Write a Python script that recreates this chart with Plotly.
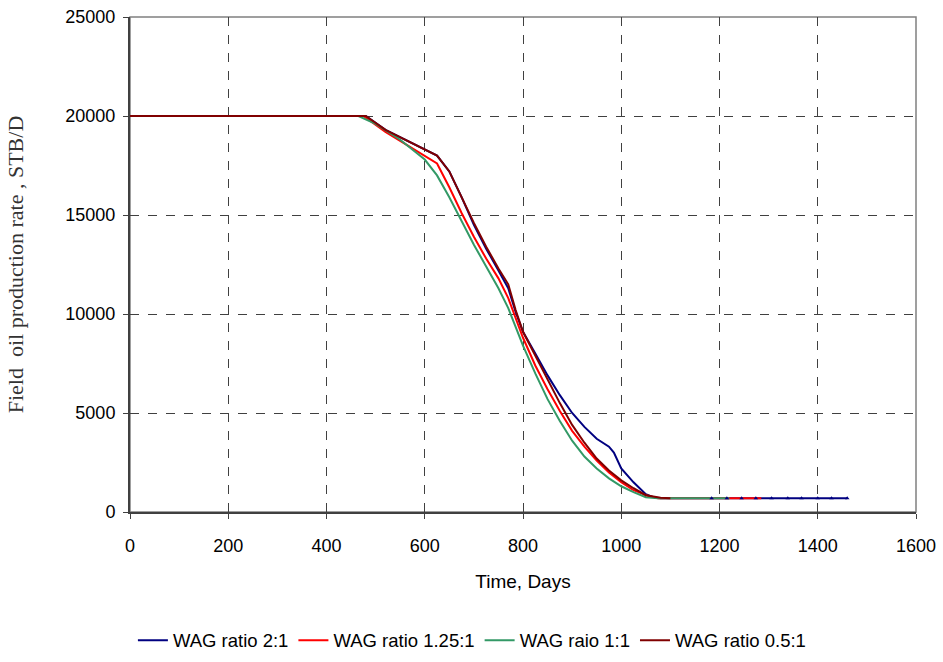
import plotly.graph_objects as go

# ---- data ----
blue_days = [0, 480, 520, 560, 600, 625, 650, 675, 700, 725, 750, 770, 785, 800, 825, 850, 875, 900,
             925, 950, 975, 985, 1000, 1025, 1050, 1065, 1080, 1184, 1215, 1245, 1274, 1306, 1339,
             1367, 1400, 1428, 1460]
blue_vals = [20000, 20000, 19300, 18800, 18300, 18000, 17200, 15900, 14500, 13300, 12200, 11300, 10100,
             9100, 8000, 6900, 5900, 5000, 4300, 3700, 3300, 3000, 2200, 1500, 900, 750, 700, 700, 700,
             700, 700, 700, 700, 700, 700, 700, 700]

red_days = [0, 475, 520, 560, 600, 625, 650, 675, 700, 725, 750, 770, 800, 825, 850, 875, 900, 925,
            950, 975, 1000, 1025, 1050, 1075, 1285]
red_vals = [20000, 20000, 19200, 18600, 18000, 17600, 16400, 15100, 13900, 12800, 11800, 10800, 8800,
            7400, 6200, 5100, 4100, 3300, 2600, 2000, 1500, 1100, 850, 700, 700]

green_days = [0, 465, 500, 550, 600, 625, 650, 675, 700, 725, 750, 770, 800, 825, 850, 875, 900, 925,
              950, 975, 1000, 1025, 1050, 1075, 1220]
green_vals = [20000, 20000, 19600, 18800, 17800, 17000, 15900, 14700, 13500, 12400, 11300, 10300, 8400,
              7000, 5700, 4600, 3600, 2800, 2200, 1700, 1300, 1000, 750, 700, 700]

dred_days = [0, 480, 520, 560, 600, 625, 650, 675, 700, 725, 750, 770, 785, 800, 825, 850, 875, 900,
             925, 950, 975, 1000, 1025, 1050, 1080, 1100]
dred_vals = [20000, 20000, 19300, 18800, 18300, 18000, 17200, 15900, 14600, 13400, 12300, 11500, 10200,
             9100, 7900, 6700, 5500, 4400, 3500, 2700, 2100, 1600, 1200, 850, 720, 700]

blue_tick_days = [1184, 1215, 1245, 1274, 1306, 1339, 1367, 1400, 1428, 1460]
blue_tick_vals = [700, 700, 700, 700, 700, 700, 700, 700, 700, 700]

series = [
    ("WAG ratio 2:1", blue_days, blue_vals, "#000080"),
    ("WAG ratio 1.25:1", red_days, red_vals, "#FF0000"),
    ("WAG raio 1:1", green_days, green_vals, "#339966"),
    ("WAG ratio 0.5:1", dred_days, dred_vals, "#800000"),
]

fig = go.Figure()
for name, xs, ys, col in series:
    fig.add_trace(go.Scatter(x=xs, y=ys, mode="lines", name=name,
                             line=dict(color=col, width=2)))
fig.add_trace(go.Scatter(x=blue_tick_days, y=blue_tick_vals, mode="markers", showlegend=False,
                         marker=dict(symbol="triangle-up", size=4, color="#000080")))

sans = "Liberation Sans, Arial, sans-serif"
axis_font = dict(family=sans, size=18, color="#000000")

fig.update_layout(
    width=943, height=662,
    margin=dict(l=130, r=27, t=17, b=150, autoexpand=False),
    plot_bgcolor="white", paper_bgcolor="white",
    showlegend=True,
    legend=dict(orientation="h", x=0.435, xanchor="center", y=-0.26, yanchor="middle",
                font=dict(family=sans, size=18.5, color="#000000"),
                itemwidth=30, tracegroupgap=0, bgcolor="rgba(0,0,0,0)"),
    xaxis=dict(range=[0, 1600], dtick=200, tick0=0, tickfont=axis_font, tickformat="d",
               showgrid=True, gridcolor="#404040", griddash="dash", gridwidth=1,
               showline=True, linecolor="#404040", linewidth=2, automargin=False,
               ticks="outside", ticklen=5, tickcolor="#404040", ticklabelstandoff=11,
               zeroline=False,
               title=dict(text="Time, Days", font=dict(family=sans, size=19, color="#000000"),
                          standoff=20)),
    yaxis=dict(range=[0, 25000], dtick=5000, tick0=0, tickfont=axis_font, tickformat="d",
               showgrid=True, gridcolor="#404040", griddash="dash", gridwidth=1,
               showline=True, linecolor="#404040", linewidth=2, automargin=False,
               ticks="outside", ticklen=5, tickcolor="#404040", ticklabelstandoff=4,
               zeroline=False,
               title=dict(text="Field  oil production rate , STB/D",
                          font=dict(family="Liberation Serif, Times New Roman, serif", size=22,
                                    color="#333333"), standoff=36)),
    shapes=[dict(type="rect", xref="paper", yref="paper", x0=0, x1=1, y0=0, y1=1,
                 line=dict(color="#808080", width=1.5), layer="below")],
)

fig.write_html("out.html")
